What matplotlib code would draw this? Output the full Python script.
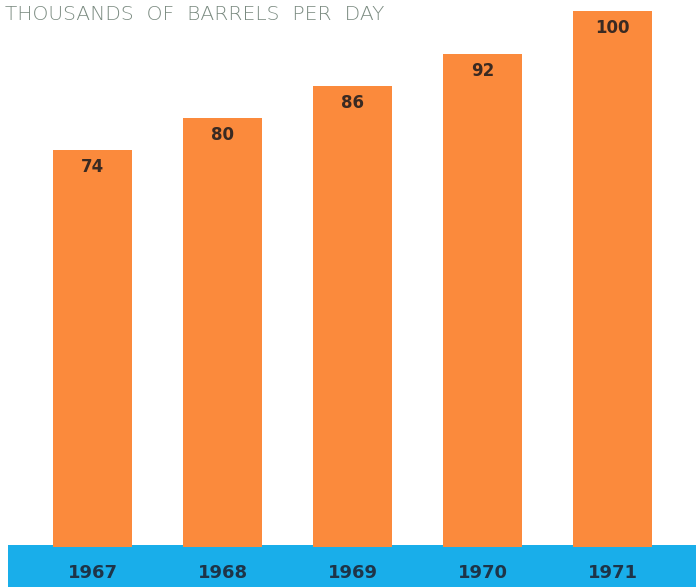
import matplotlib
matplotlib.use("Agg")
import matplotlib.pyplot as plt
from matplotlib.patches import Rectangle

years = ["1967", "1968", "1969", "1970", "1971"]
values = [74, 80, 86, 92, 100]
title = "THOUSANDS  OF  BARRELS  PER  DAY"

W, H = 696, 587
fig = plt.figure(figsize=(W / 100, H / 100), dpi=100)
fig.patch.set_facecolor("white")

ax = fig.add_axes([0, 0, 1, 1])
ax.set_facecolor("none")
ax.set_xlim(-92.5 / 130, (W - 92.5) / 130)
scale = 5.36
ax.set_ylim(-40 / scale, (H - 40) / scale)
ax.axis("off")

# cyan band at bottom
ax.add_patch(Rectangle((8 / W, 0), 1 - 8 / W, 42 / H, transform=ax.transAxes,
                       facecolor="#19aeea", edgecolor="none", zorder=1))

xs = list(range(len(years)))
ax.bar(xs, values, width=0.615, color="#fb8a3c", edgecolor="none", zorder=2)

for x, v, yr in zip(xs, values, years):
    ax.annotate(str(v), (x, v), xytext=(0, -12), textcoords="offset points",
                ha="center", va="center", fontsize=12, fontweight="bold",
                color="#3a2a22", zorder=3)
    ax.annotate(yr, (x, 0), xytext=(0, -19), textcoords="offset points",
                ha="center", va="center", fontsize=13, fontweight="bold",
                color="#1e3448", zorder=3)

fig.text(5 / W, 1 - 14 / H, title, ha="left", va="center", fontsize=14.6,
         color="#7a8a80", fontweight="light")

fig.savefig("out.png", dpi=100)
